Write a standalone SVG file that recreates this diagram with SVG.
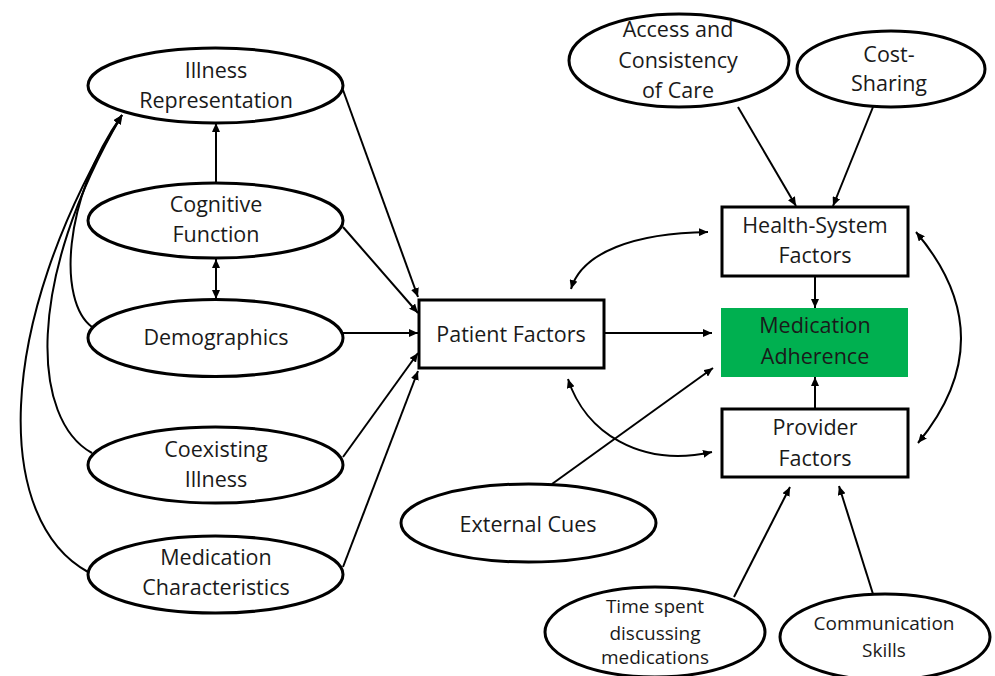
<svg xmlns="http://www.w3.org/2000/svg" width="995" height="676" viewBox="0 0 995 676">
<style>
  .shape { fill: #ffffff; stroke: #000000; stroke-width: 3; }
  .green { fill: #00b050; stroke: none; }
  .t { font-family: "Open Sans", "Liberation Sans", sans-serif; font-size: 21.5px; fill: #1a1a1a; text-anchor: middle; }
  .s { font-size: 19px; }
  .c { fill: none; stroke: #000000; stroke-width: 2; }
  .a { marker-end: url(#ah); }
  .b { marker-start: url(#ah); marker-end: url(#ah); }
</style>
<defs>
  <marker id="ah" viewBox="0 0 9 8" refX="9" refY="4" markerWidth="9" markerHeight="8" markerUnits="userSpaceOnUse" orient="auto-start-reverse">
    <path d="M0,0 L9,4 L0,8 z" fill="#000000"/>
  </marker>
</defs>
<rect width="995" height="676" fill="#ffffff"/>

<g id="connectors">
  <!-- left ellipses to Patient Factors -->
  <line class="c a" x1="343" y1="90" x2="418" y2="297"/>
  <line class="c a" x1="343" y1="227" x2="418" y2="313"/>
  <line class="c a" x1="343" y1="333" x2="418" y2="333"/>
  <line class="c a" x1="343" y1="457" x2="418" y2="353"/>
  <line class="c a" x1="343" y1="567" x2="418" y2="371"/>
  <!-- vertical arrows on left -->
  <line class="c a" x1="216" y1="183" x2="216" y2="123"/>
  <line class="c b" x1="216" y1="259" x2="216" y2="299"/>
  <!-- curves to Illness Representation -->
  <path class="c a" d="M92,327 C58,302 62,200 122,115"/>
  <path class="c a" d="M92,453 C32,420 24,282 122,115"/>
  <path class="c a" d="M88,572 C-4,522 -10,330 122,115"/>
  <!-- Patient to Medication Adherence -->
  <line class="c a" x1="604" y1="333" x2="712" y2="333"/>
  <!-- Patient <-> Health-System / Provider -->
  <path class="c b" d="M571,289 C582,252 635,233 708,232"/>
  <path class="c b" d="M568,379 C585,432 640,468 712,452"/>
  <!-- Health-System <-> Provider -->
  <path class="c b" d="M916,232 Q1005,337 918,443"/>
  <!-- into Medication Adherence -->
  <line class="c a" x1="815" y1="277" x2="815" y2="308"/>
  <line class="c a" x1="815" y1="408" x2="815" y2="377"/>
  <line class="c a" x1="552" y1="484" x2="713" y2="368"/>
  <!-- top ellipses to Health-System -->
  <line class="c a" x1="738" y1="107" x2="796" y2="206"/>
  <line class="c a" x1="873" y1="107" x2="833" y2="206"/>
  <!-- bottom ellipses to Provider -->
  <line class="c a" x1="734" y1="597" x2="790" y2="487"/>
  <line class="c a" x1="873" y1="594" x2="839" y2="486"/>
</g>

<g id="illness-representation">
  <ellipse class="shape" cx="215.5" cy="85.5" rx="127.5" ry="37.5"/>
  <text class="t" x="216" y="78">Illness</text>
  <text class="t" x="216" y="108">Representation</text>
</g>
<g id="cognitive-function">
  <ellipse class="shape" cx="215.5" cy="220.5" rx="127.5" ry="37.5"/>
  <text class="t" x="216" y="212">Cognitive</text>
  <text class="t" x="216" y="242">Function</text>
</g>
<g id="demographics">
  <ellipse class="shape" cx="215.5" cy="338" rx="127.5" ry="38.5"/>
  <text class="t" x="216" y="345">Demographics</text>
</g>
<g id="coexisting-illness">
  <ellipse class="shape" cx="215.5" cy="465" rx="127.5" ry="38"/>
  <text class="t" x="216" y="457">Coexisting</text>
  <text class="t" x="216" y="487">Illness</text>
</g>
<g id="medication-characteristics">
  <ellipse class="shape" cx="215.5" cy="574.5" rx="127.5" ry="38.5"/>
  <text class="t" x="216" y="565">Medication</text>
  <text class="t" x="216" y="595">Characteristics</text>
</g>

<g id="patient-factors">
  <rect class="shape" x="419" y="300" width="185" height="68"/>
  <text class="t" x="511" y="342">Patient Factors</text>
</g>

<g id="health-system-factors">
  <rect class="shape" x="722" y="207" width="186" height="69"/>
  <text class="t" x="815" y="233">Health-System</text>
  <text class="t" x="815" y="263">Factors</text>
</g>
<g id="medication-adherence">
  <rect class="green" x="721" y="308" width="187" height="69"/>
  <text class="t" x="815" y="333">Medication</text>
  <text class="t" x="815" y="364">Adherence</text>
</g>
<g id="provider-factors">
  <rect class="shape" x="722" y="409" width="186" height="68"/>
  <text class="t" x="815" y="435">Provider</text>
  <text class="t" x="815" y="466">Factors</text>
</g>

<g id="access-consistency">
  <ellipse class="shape" cx="679" cy="60.5" rx="110" ry="46.5"/>
  <text class="t" x="678" y="37">Access and</text>
  <text class="t" x="678" y="68">Consistency</text>
  <text class="t" x="678" y="98">of Care</text>
</g>
<g id="cost-sharing">
  <ellipse class="shape" cx="891" cy="69" rx="94" ry="38"/>
  <text class="t" x="889" y="62">Cost-</text>
  <text class="t" x="889" y="91">Sharing</text>
</g>

<g id="external-cues">
  <ellipse class="shape" cx="528.5" cy="523" rx="127.5" ry="39"/>
  <text class="t" x="528" y="532">External Cues</text>
</g>

<g id="time-spent">
  <ellipse class="shape" cx="655" cy="632" rx="110" ry="45"/>
  <text class="t s" x="655" y="613">Time spent</text>
  <text class="t s" x="655" y="640">discussing</text>
  <text class="t s" x="655" y="664">medications</text>
</g>
<g id="communication-skills">
  <ellipse class="shape" cx="885" cy="637" rx="105" ry="43"/>
  <text class="t s" x="884" y="630">Communication</text>
  <text class="t s" x="884" y="657">Skills</text>
</g>
</svg>
